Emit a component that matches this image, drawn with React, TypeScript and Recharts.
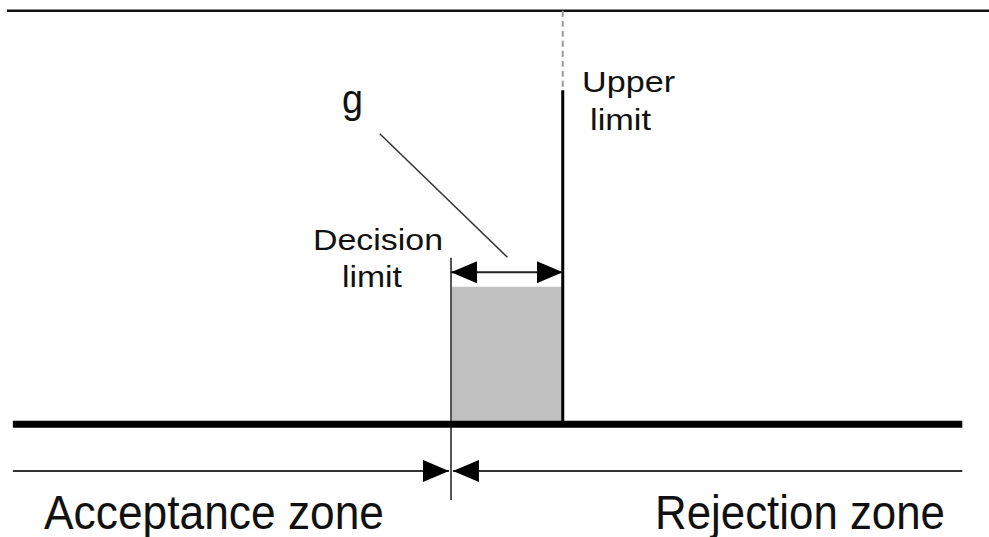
import React from 'react';
import { ComposedChart, XAxis, YAxis, ReferenceLine, ReferenceArea, Scatter } from 'recharts';

// Conceptual units: x across the measurement axis (0..100), y height (baseline = 0)
const decisionLimit = 45.6;
const upperLimit = 56.9;
const guardLevel = 25.6;
const arrowLevel = 28.3;
const topLevel = 77;
const solidTop = 62.2;
const decisionTop = 31;
const decisionBottom = -14.1;
const zoneLevel = -8.7;
const axisStart = 1.3;
const axisEnd = 97.3;
const topLineStart = 0.7;
const topLineEnd = 100;
const leaderFrom = { x: 38.4, y: 54.1 };
const leaderTo = { x: 51.3, y: 31.1 };

const labelTexts = ['g', 'Upper', 'limit', 'Decision', 'limit', 'Acceptance zone', 'Rejection zone'];
const labelX = [34.58, 58.85, 59.66, 31.65, 34.58, 4.45, 66.23];
const labelY = [57.96, 61.87, 54.79, 32.45, 25.55, -19.6, -19.6];
const labelSize = [40, 30, 30, 30, 30, 48, 48];
const labelLength = [21, 93, 61, 130, 60, 340, 290];

const labels = labelTexts.map((t, i) => ({
  text: t,
  x: labelX[i],
  y: labelY[i],
  size: labelSize[i],
  len: labelLength[i],
}));

const FONT = '"Liberation Sans", Arial, sans-serif';

const makeLine = (stroke: string, width: number, opts: any = {}) => (p: any) => (
  <line
    x1={p.x1}
    y1={p.y1}
    x2={p.x2}
    y2={p.y2}
    stroke={stroke}
    strokeWidth={width}
    strokeDasharray={opts.dash}
    markerStart={opts.start}
    markerEnd={opts.end}
  />
);

const LabelShape = (p: any) => {
  const d = p.payload;
  return (
    <text
      x={p.cx}
      y={p.cy}
      fontFamily={FONT}
      fontSize={d.size}
      fill="#111"
      textLength={d.len}
      lengthAdjust="spacingAndGlyphs"
    >
      {d.text}
    </text>
  );
};

export default function App() {
  return (
    <div style={{ position: 'absolute', left: 0, top: 0, width: 989, height: 537, background: '#fff' }}>
      <svg width={0} height={0} style={{ position: 'absolute' }}>
        <defs>
          <marker
            id="arrowHead"
            markerUnits="userSpaceOnUse"
            markerWidth={26}
            markerHeight={22}
            viewBox="0 0 26 22"
            refX={26}
            refY={11}
            orient="auto-start-reverse"
          >
            <path d="M0,0 L26,11 L0,22 Z" fill="#000" />
          </marker>
        </defs>
      </svg>
      <ComposedChart width={989} height={537} margin={{ top: 0, right: 0, bottom: 0, left: 0 }}>
        <XAxis type="number" dataKey="x" domain={[0, 100]} allowDataOverflow hide />
        <YAxis type="number" dataKey="y" domain={[-21, 79]} allowDataOverflow hide />

        <ReferenceArea
          x1={decisionLimit}
          x2={upperLimit}
          y1={0}
          y2={guardLevel}
          fill="#c0c0c0"
          fillOpacity={1}
          stroke="none"
          ifOverflow="visible"
        />

        {/* top frame line */}
        <ReferenceLine
          segment={[{ x: topLineStart, y: topLevel }, { x: topLineEnd, y: topLevel }]}
          ifOverflow="visible"
          shape={makeLine('#111', 2.5)}
        />

        {/* upper limit: dashed then solid */}
        <ReferenceLine
          segment={[{ x: upperLimit, y: topLevel }, { x: upperLimit, y: solidTop }]}
          ifOverflow="visible"
          shape={makeLine('#9a9a9a', 2, { dash: '6 4' })}
        />
        <ReferenceLine
          segment={[{ x: upperLimit, y: solidTop }, { x: upperLimit, y: 0 }]}
          ifOverflow="visible"
          shape={makeLine('#000', 3)}
        />

        {/* decision limit */}
        <ReferenceLine
          segment={[{ x: decisionLimit, y: decisionTop }, { x: decisionLimit, y: decisionBottom }]}
          ifOverflow="visible"
          shape={makeLine('#555', 2)}
        />

        {/* g double arrow */}
        <ReferenceLine
          segment={[{ x: decisionLimit, y: arrowLevel }, { x: upperLimit, y: arrowLevel }]}
          ifOverflow="visible"
          shape={makeLine('#222', 2, { start: 'url(#arrowHead)', end: 'url(#arrowHead)' })}
        />

        {/* leader line to g */}
        <ReferenceLine
          segment={[leaderFrom, leaderTo]}
          ifOverflow="visible"
          shape={makeLine('#333', 1.5)}
        />

        {/* baseline */}
        <ReferenceLine
          segment={[{ x: axisStart, y: 0 }, { x: axisEnd, y: 0 }]}
          ifOverflow="visible"
          shape={makeLine('#000', 7)}
        />

        {/* zone arrows */}
        <ReferenceLine
          segment={[{ x: axisStart, y: zoneLevel }, { x: decisionLimit - 0.2, y: zoneLevel }]}
          ifOverflow="visible"
          shape={makeLine('#333', 2, { end: 'url(#arrowHead)' })}
        />
        <ReferenceLine
          segment={[{ x: axisEnd, y: zoneLevel }, { x: decisionLimit + 0.2, y: zoneLevel }]}
          ifOverflow="visible"
          shape={makeLine('#333', 2, { end: 'url(#arrowHead)' })}
        />

        <Scatter data={labels} dataKey="y" shape={LabelShape} isAnimationActive={false} />
      </ComposedChart>
    </div>
  );
}
